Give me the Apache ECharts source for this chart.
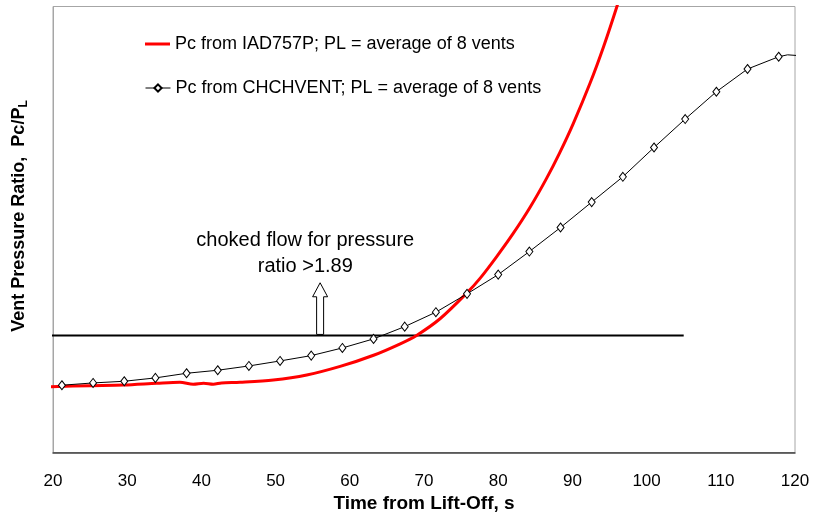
<!DOCTYPE html>
<html>
<head>
<meta charset="utf-8">
<script src="https://cdn.jsdelivr.net/npm/echarts@6/dist/echarts.min.js"></script>
<style>
  html, body { margin: 0; padding: 0; background: #ffffff; }
  #chart { width: 820px; height: 514px; }
</style>
</head>
<body>
<div id="chart"></div>
<script>
// Time axis ticks (s)
const xTicks = [20, 30, 40, 50, 60, 70, 80, 90, 100, 110, 120];

// Pc from IAD757P (red curve): time, pressure ratio
const iadT = [19.6, 25, 29.5, 34, 37.1, 38.9, 40.3, 41.6, 42.7, 45.2, 49.7, 54.2, 58.7, 63.2, 66.8, 69.0,
              72.2, 75.75, 77.55, 79.8, 82.0, 84.3, 86.5, 88.3, 90.1, 92.4, 94.2, 96.0, 96.6];
const iadV = [1.063, 1.079, 1.09, 1.118, 1.134, 1.102, 1.118, 1.102, 1.123, 1.134, 1.171, 1.252, 1.39, 1.57, 1.755, 1.89,
              2.163, 2.572, 2.811, 3.163, 3.532, 3.959, 4.421, 4.842, 5.306, 5.968, 6.551, 7.2, 7.45];

// Pc from CHCHVENT (black curve with diamond markers)
const chT = [21.2, 25.4, 29.6, 33.8, 38.0, 42.2, 46.4, 50.6, 54.8, 59.0, 63.2, 67.4,
             71.6, 75.8, 80.0, 84.2, 88.4, 92.6, 96.8, 101.0, 105.2, 109.4, 113.6, 117.8];
const chV = [1.086, 1.123, 1.150, 1.204, 1.279, 1.328, 1.397, 1.478, 1.564, 1.688, 1.834, 2.032,
             2.265, 2.561, 2.872, 3.244, 3.632, 4.042, 4.451, 4.924, 5.383, 5.824, 6.191, 6.389];
// unmarked tail of the CHCHVENT curve
const chTailT = [119.0, 120.7];
const chTailV = [6.42, 6.405];

// Choked-flow threshold line
const chokeRatio = 1.89;
const chokeT = [19.6, 105];

// Annotation anchor (time, ratio) and arrow extent
const noteT = 54;
const noteV = 3.21;
const arrowT = 56;
const arrowTopV = 2.74;

const names = [
  'Pc from IAD757P; PL = average of 8 vents',
  'Pc from CHCHVENT; PL = average of 8 vents'
];

const FONT = 'Arial, "Liberation Sans", Helvetica, sans-serif';

const chart = echarts.init(document.getElementById('chart'), null, { renderer: 'canvas' });

const chData = chT.map((t, i) => [t, chV[i]])
  .concat(chTailT.map((t, i) => ({ value: [t, chTailV[i]], symbol: 'none' })));

const legendText = { fontSize: 18, color: '#000', fontFamily: FONT, lineHeight: 20 };

chart.setOption({
  backgroundColor: '#ffffff',
  animation: false,
  textStyle: { fontFamily: FONT },
  grid: {
    left: 53, right: 25, top: 6.5, bottom: 61.5,
    outerBoundsMode: 'none',
    containLabel: false,
    show: true, borderColor: '#a6a6a6', borderWidth: 1
  },
  legend: [
    {
      left: 145, top: 34, padding: 0,
      itemWidth: 25, itemHeight: 3,
      textStyle: legendText,
      data: [{ name: names[0], icon: 'rect', itemStyle: { color: '#ff0000' } }]
    },
    {
      left: 145, top: 78, padding: 0,
      itemWidth: 25, itemHeight: 9,
      textStyle: legendText,
      data: [{ name: names[1], lineStyle: { width: 1, color: '#000' } }]
    }
  ],
  xAxis: {
    type: 'value',
    min: xTicks[0], max: xTicks[xTicks.length - 1], interval: 10,
    axisLine: { show: true, lineStyle: { color: '#404040', width: 1.5 } },
    axisTick: { show: false },
    splitLine: { show: false },
    axisLabel: { fontSize: 17, color: '#000', margin: 20, fontFamily: FONT },
    name: 'Time from Lift-Off, s',
    nameLocation: 'middle',
    nameGap: 41,
    nameTextStyle: { fontSize: 19, fontWeight: 'bold', color: '#000', fontFamily: FONT }
  },
  yAxis: {
    type: 'value',
    min: 0, max: 7.2,
    axisLine: { show: true, lineStyle: { color: '#a6a6a6' } },
    axisTick: { show: false },
    axisLabel: { show: false },
    splitLine: { show: false }
  },
  series: [
    {
      name: names[0],
      type: 'line',
      data: iadT.map((t, i) => [t, iadV[i]]),
      showSymbol: false,
      symbol: 'none',
      smooth: 0.3,
      lineStyle: { color: '#ff0000', width: 3 },
      itemStyle: { color: '#ff0000' },
      z: 3
    },
    {
      name: names[1],
      type: 'line',
      data: chData,
      symbol: 'diamond',
      symbolSize: [7, 9],
      clip: false,
      lineStyle: { color: '#000', width: 1 },
      itemStyle: { color: '#ffffff', borderColor: '#000', borderWidth: 1 },
      z: 4
    },
    {
      name: 'threshold',
      type: 'line',
      data: chokeT.map(t => [t, chokeRatio]),
      symbol: 'none',
      clip: false,
      lineStyle: { color: '#000', width: 2 },
      z: 2
    }
  ]
});

// Annotation: text and hollow arrow placed through the axes
function drawNotes() {
  const base = chart.convertToPixel({ gridIndex: 0 }, [arrowT, chokeRatio]);
  const tip = chart.convertToPixel({ gridIndex: 0 }, [arrowT, arrowTopV]);
  const note = chart.convertToPixel({ gridIndex: 0 }, [noteT, noteV]);
  const x = base[0], yb = base[1] - 1, yt = tip[1];
  const sw = 3.5, hw = 7.5, hh = 14;
  chart.setOption({
    graphic: [
      {
        type: 'polygon',
        shape: { points: [
          [x - sw, yb], [x - sw, yt + hh], [x - hw, yt + hh], [x, yt],
          [x + hw, yt + hh], [x + sw, yt + hh], [x + sw, yb]
        ] },
        style: { fill: '#ffffff', stroke: '#000', lineWidth: 1 },
        z: 10
      },
      {
        type: 'text',
        x: note[0], y: note[1],
        style: {
          text: 'choked flow for pressure\nratio >1.89',
          fontSize: 20, fontFamily: FONT, fill: '#000',
          align: 'center', verticalAlign: 'middle', lineHeight: 26
        },
        z: 10
      },
      {
        type: 'text',
        x: 19, y: 216,
        rotation: Math.PI / 2,
        style: {
          text: '{m|Vent Pressure Ratio,  Pc/P}{s|L}',
          align: 'center', verticalAlign: 'middle',
          rich: {
            m: { fontSize: 18, fontWeight: 'bold', fontFamily: FONT, fill: '#000', verticalAlign: 'bottom' },
            s: { fontSize: 12, fontWeight: 'bold', fontFamily: FONT, fill: '#000', verticalAlign: 'bottom', padding: [0, 0, -2, 0] }
          }
        },
        z: 10
      }
    ]
  });
}
drawNotes();
</script>
</body>
</html>
